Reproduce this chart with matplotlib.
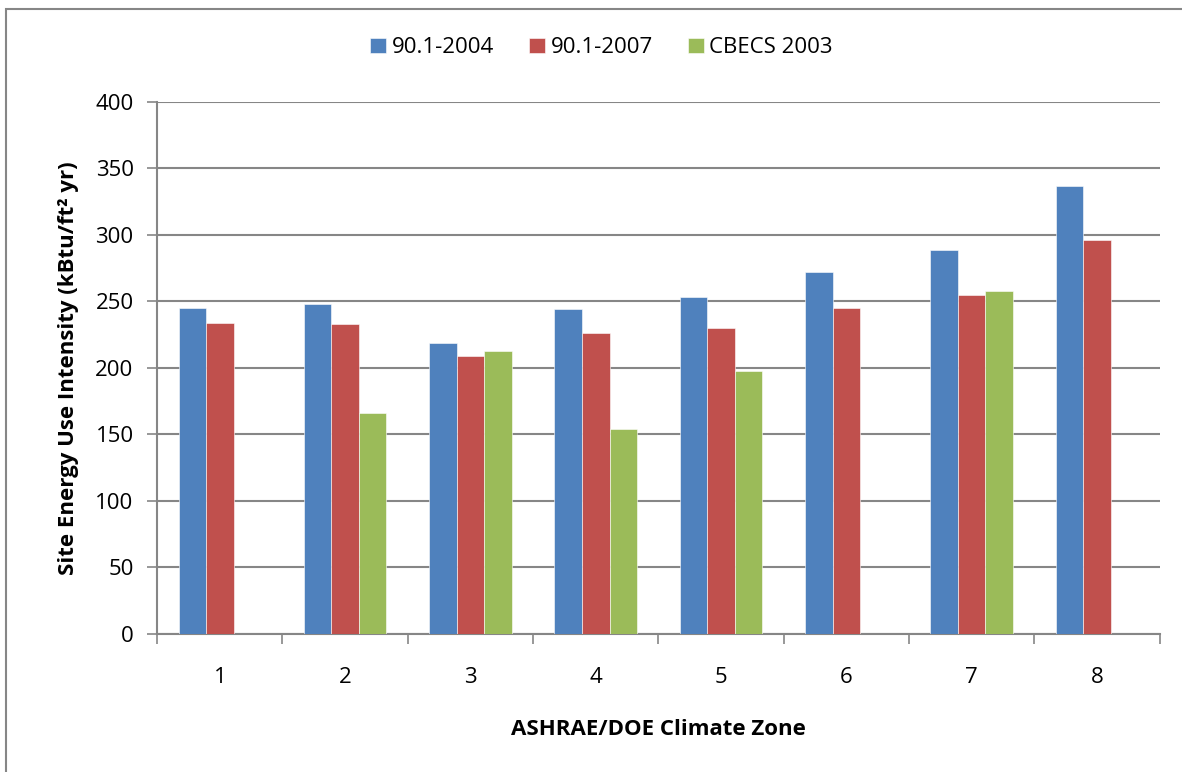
import numpy as np
import matplotlib.pyplot as plt
from matplotlib.patches import Rectangle

zones = ["1", "2", "3", "4", "5", "6", "7", "8"]
eui_2004 = [245, 248, 219, 244, 253, 272, 289, 337]
eui_2007 = [234, 233, 209, 226, 230, 245, 255, 296]
cbecs_2003 = [np.nan, 166, 213, 154, 198, np.nan, 258, np.nan]

series = [("90.1-2004", eui_2004, "#4F81BD"),
          ("90.1-2007", eui_2007, "#C0504D"),
          ("CBECS 2003", cbecs_2003, "#9BBB59")]

plt.rcParams["font.family"] = ["Open Sans", "DejaVu Sans"]

fig = plt.figure(figsize=(11.82, 7.72), dpi=100)
ax = fig.add_axes([0.133, 0.179, 0.848, 0.689])

x = np.arange(len(zones))
w = 0.22
for i, (name, vals, col) in enumerate(series):
    ax.bar(x + (i - 1) * w, vals, w, color=col, label=name,
           edgecolor="white", linewidth=0.4, zorder=3)

ax.set_xlim(-0.5, len(zones) - 0.5)
ax.set_ylim(0, 400)
ax.set_yticks(range(0, 401, 50))
ax.yaxis.grid(True, color="#868686", linewidth=1.5, zorder=0)
ax.set_xticks(x)
ax.set_xticklabels(zones)
ax.set_xticks(np.arange(-0.5, len(zones)), minor=True)
ax.tick_params(axis="x", which="major", length=0, pad=24, labelsize=16)
ax.tick_params(axis="x", which="minor", length=7, color="#868686", width=1.2)
ax.tick_params(axis="y", length=7, color="#868686", width=1.2, labelsize=16, pad=10)

for s in ["top", "right"]:
    ax.spines[s].set_visible(False)
for s in ["left", "bottom"]:
    ax.spines[s].set_color("#868686")
    ax.spines[s].set_linewidth(1.5)

ax.set_ylabel("Site Energy Use Intensity (kBtu/ft² yr)", fontsize=16,
              fontweight="bold", labelpad=12)
ax.set_xlabel("ASHRAE/DOE Climate Zone", fontsize=16, fontweight="bold",
              labelpad=22)

ax.legend(loc="center", bbox_to_anchor=(0.509, 0.938), bbox_transform=fig.transFigure,
          ncol=3, frameon=False, fontsize=16, handlelength=0.7, handleheight=0.7,
          handletextpad=0.25, columnspacing=1.6)

fig.patches.append(Rectangle((0.005, -0.1), 1.2, 1.088, transform=fig.transFigure,
                             fill=False, edgecolor="#868686", linewidth=1.5))

fig.savefig("out.png", dpi=100)
